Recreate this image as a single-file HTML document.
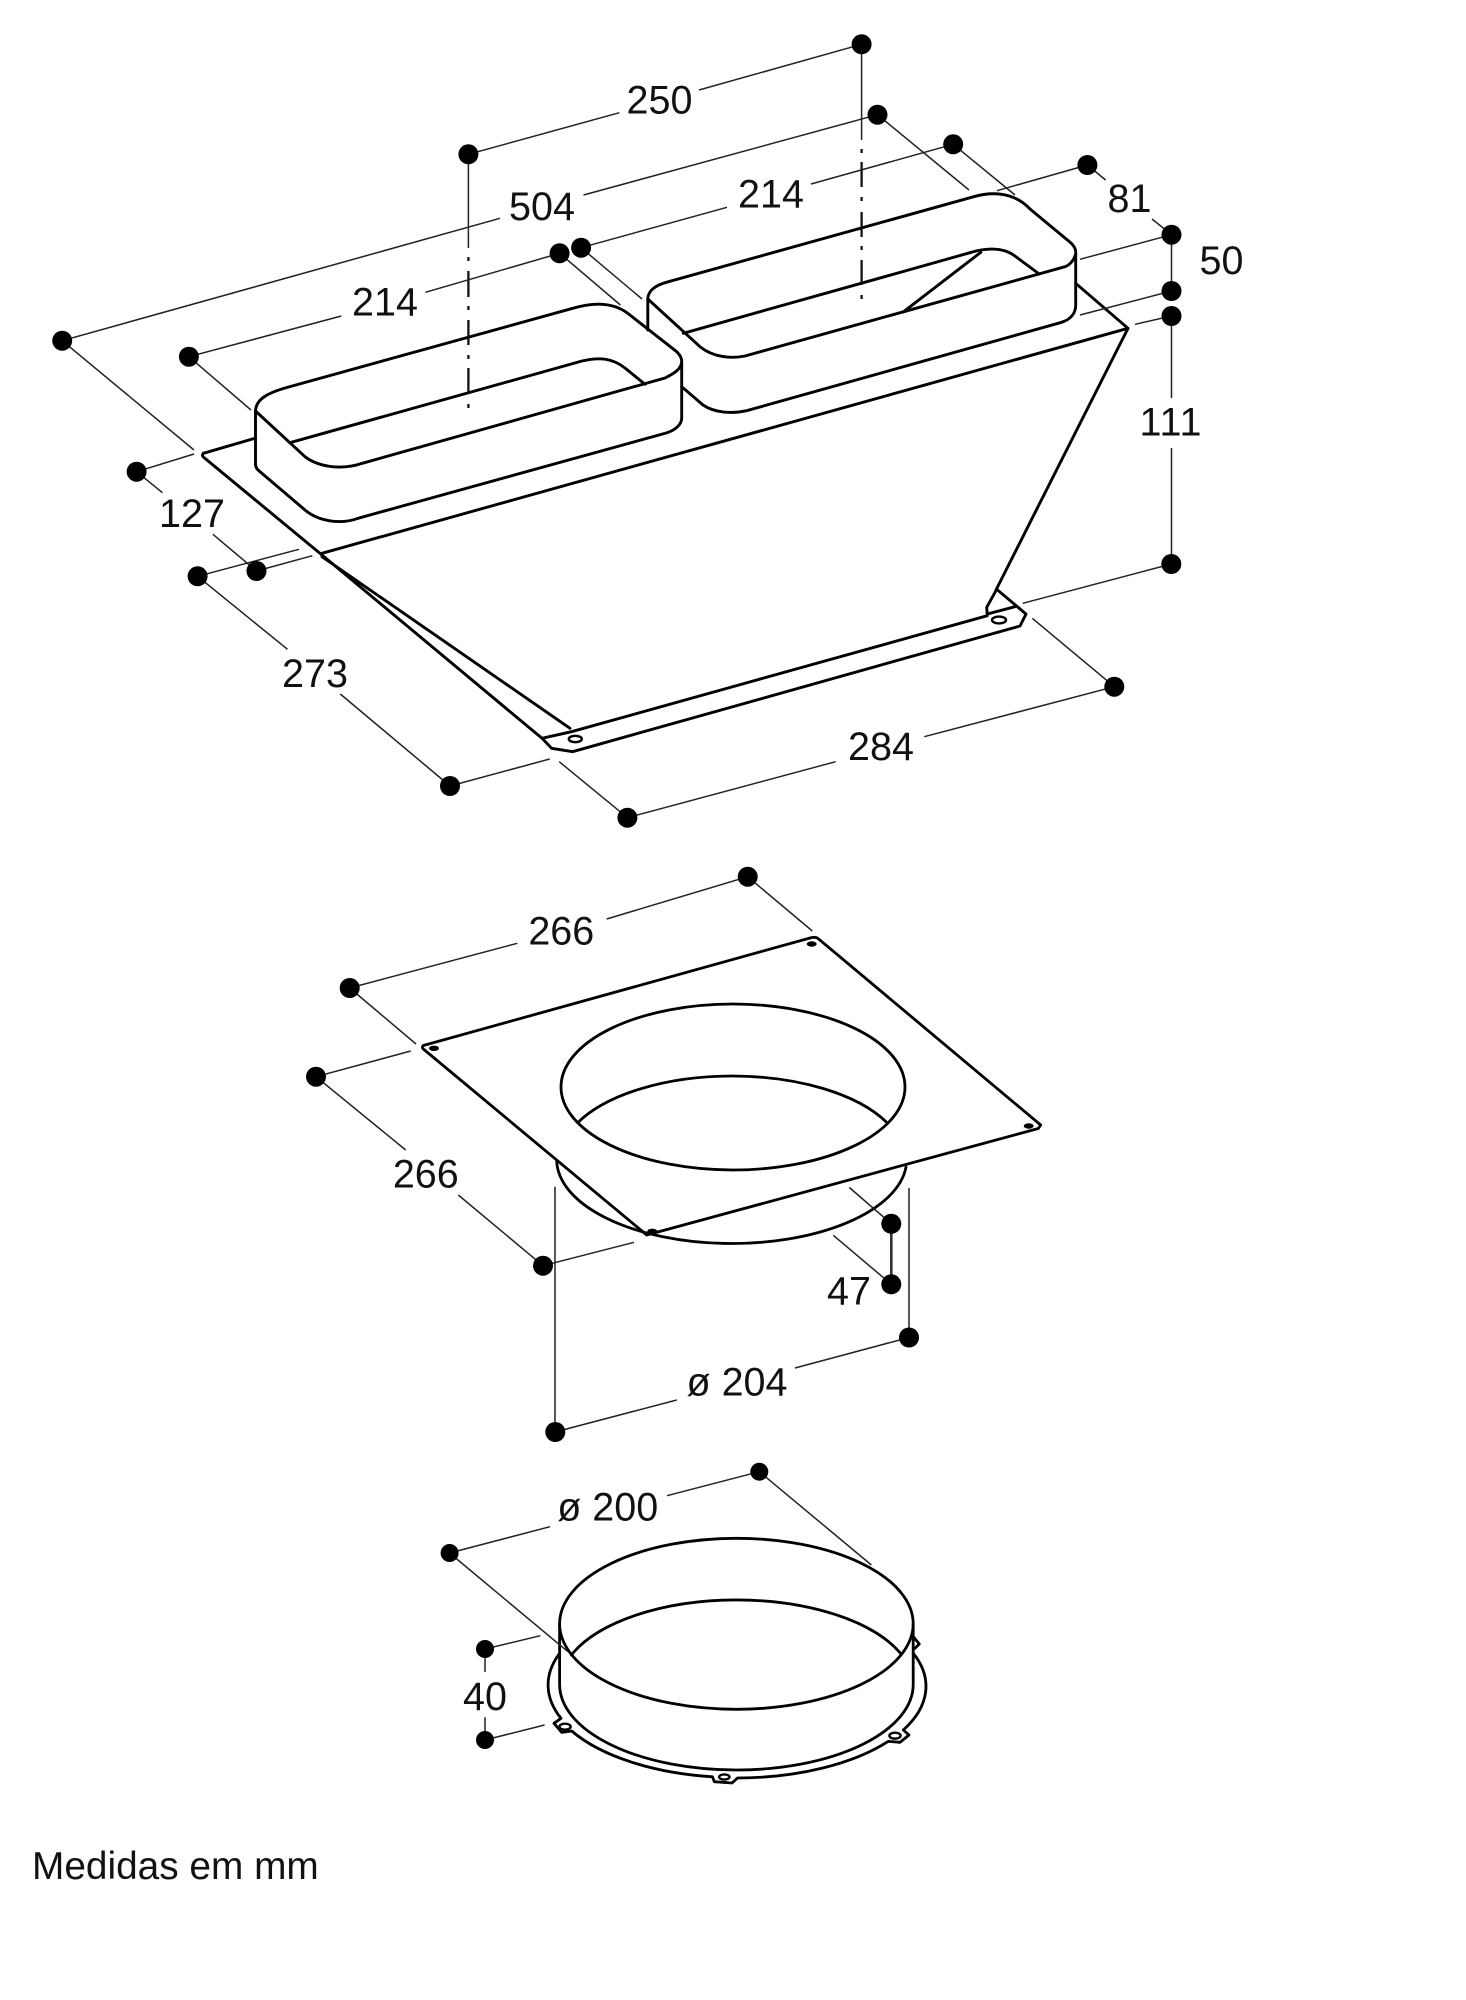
<!DOCTYPE html>
<html><head><meta charset="utf-8"><style>
html,body{margin:0;padding:0;background:#fff}
svg{display:block}
text{font-family:"Liberation Sans",sans-serif;font-size:39.5px;fill:#111;text-anchor:middle}
.d{stroke:#222;stroke-width:1.5;fill:none}
.o{stroke:#000;stroke-width:2.9;fill:none;stroke-linejoin:round;stroke-linecap:round}
.h{stroke:#000;stroke-width:2.4;fill:#fff}
</style></head><body>
<svg width="1466" height="2000" viewBox="0 0 1466 2000" xmlns="http://www.w3.org/2000/svg">
<!-- top object -->
<g class="o">
<path d="M203.4 453.3L255.7 438"/>
<path d="M203.4 453.3Q201.5 455 203.3 457L322 555L542 738.3L551.6 748.3L572.6 751.7L1020 626L1026 614L996.7 589.3L986.7 607.3L987.3 615.7L571.5 731.7L542 738.3"/>
<path d="M322 556.7L570 728.3"/>
<path d="M987.3 614L1015 606.7"/>
<path d="M322 553.3L1128 328.3L996 590"/>
<path d="M1075.7 283.3L1128 328.3"/>
<!-- duct 1 -->
<path d="M255.5 411L305 456.7C317 466 340 471 362.3 463.3L665 378C675 373 681 369 681.7 362C682 358 680 355 676.7 351.7L628 313.5C610 300 588 304 572.7 308.3L285 388C268 393 256 399 255.5 411Z"/>
<path d="M289.9 442.7L582 361C600 357 612 358 625 368L645 384.3"/>
<path d="M255.5 411V465Q256 468 258 470L305 510C318 521 340 525 358 518.3L666.2 433C676 430 681.7 424 681.7 418V362"/>
<!-- duct 2 -->
<path d="M647.8 299C648 290 656 285 668.5 281.7L973.8 196.7C990 192 1013 191 1030 209L1071 243C1075 247 1076 250 1075.7 254C1074 260 1070 265 1065 266.7L745 356C730 359 713 357 700 346.7Z"/>
<path d="M683.3 333.3L971.4 252.3C985 248 1002 247 1013.5 255L1039.2 274"/>
<path d="M980.8 252.3L903.6 311.7"/>
<path d="M1075.7 254V305C1075.7 314 1070 320 1060.3 322.7L746.7 410.7C732 414 715 413 703 405L681.7 386.7"/>
<path d="M647.8 299V330"/>
</g>
<ellipse class="h" cx="575.3" cy="739" rx="6.5" ry="3.2"/>
<ellipse class="h" cx="999" cy="620" rx="7" ry="3.4"/>
<!-- centre lines -->
<path stroke="#222" stroke-width="1.5" d="M468.4 154V248M861.6 44V140"/>
<path stroke="#111" stroke-width="2.3" d="M468.4 257V261M468.4 271V297M468.4 306V310M468.4 320V345M468.4 355V359M468.4 368V393M468.4 404V408M861.6 149V153M861.6 162V187M861.6 197V201M861.6 212V237M861.6 246V250M861.6 260V285M861.6 295V299"/>
<!-- dims top -->
<path class="d" d="M468.4 154.3L619.4 112.7M699 90L861.6 44.3
M62.2 340.7L500 218.3M583.5 195L877.5 114.7M62.2 340.7L194 450M877.5 114.7L969 190
M188.9 356.7L341.3 316M425.4 292.3L559.6 253.3M188.9 356.7L251 410M559.6 253.3L620.4 305
M581.1 247.7L727 207.3M811 184L953.2 144.3M581.1 247.7L642 299M953.2 144.3L1015 195
M1087.4 165L997 190.7M1087.4 165L1105.6 180M1152 219L1171.5 234.7
M1171.5 234.7L1080 259.3M1171.5 291L1080 315M1171.5 316L1135 324.3
M1171.5 234.7V291M1171.5 316V398M1171.5 448V564
M136.5 471.7L194 454M136.7 471.7L162.4 492.7M212.9 534.3L256.5 571M256.5 571L312.4 555.7
M197.6 576.3L299 549.3M197.6 576.3L287.5 649.3M340.3 694L450 786M450 786L549.7 759
M559.2 761.7L627.4 817.7M627.4 817.7L835.7 761.7M924.3 736.7L1114.3 686.7M1114.3 686.7L1032.3 618.3
M1171.3 564L1022.7 603.3"/>
<!-- plate -->
<g class="o" style="stroke-width:2.8">
<path d="M423.3 1045.5L810 938Q816 936.5 818.3 938.7L1040.7 1125L1038.3 1128.5L646.7 1235L423.3 1049Q421.5 1047 423.3 1045.5Z"/>
<ellipse cx="733" cy="1087" rx="172" ry="83"/>
<path d="M577.7 1122.7A172 83 0 0 1 886.7 1122.4"/>
<path d="M556.7 1160A175 84 0 0 0 906 1167"/>
</g>
<g fill="#000"><ellipse cx="434" cy="1048.3" rx="5" ry="2.7"/><ellipse cx="652.3" cy="1231.3" rx="5" ry="2.7"/><ellipse cx="811.7" cy="944" rx="5" ry="2.7"/><ellipse cx="1028.7" cy="1126" rx="5" ry="2.7"/></g>
<path class="d" d="M349.7 988L517.3 943.3M606.7 919L747.7 876.7M349.7 988L416 1044M747.7 876.7L812.3 931
M316 1076.7L410.7 1051M316 1076.7L405.7 1150M458.3 1195L543 1265.7M543 1265.7L634 1242.3
M555 1186.7V1432M555 1432L676.7 1400M795 1368L909 1337.5M909 1188V1337.5
M849.3 1187.5L891.3 1223.8M833.3 1235.3L891.3 1284.3"/>
<path stroke="#333" stroke-width="2.6" d="M891.3 1223.8V1284.3"/>
<!-- ring -->
<g class="o" style="stroke-width:2.8">
<path d="M558.9 1654.3A189.6 92 0 0 0 561 1718.3L554 1723.3L561.7 1732.3L571.7 1731A189.6 92 0 0 0 712.5 1776.8L714.3 1781.7L732 1783L737.5 1778A189.6 92 0 0 0 888.3 1741.3L900 1742.3L909 1735L903.3 1730A189.6 92 0 0 0 913.3 1653.3"/>
<path d="M913.3 1636.7L919.3 1644L915 1648.3"/>
<ellipse cx="736.4" cy="1623.8" rx="176.8" ry="85.5"/>
<path d="M571.4 1655A176.8 85.5 0 0 1 901 1654"/>
<path d="M559.6 1624V1684.5A176.8 85.5 0 0 0 913.2 1684.5V1624"/>
</g>
<ellipse class="h" cx="565" cy="1726.7" rx="5.6" ry="3"/>
<ellipse class="h" cx="724.3" cy="1777" rx="5.2" ry="2.6"/>
<ellipse class="h" cx="895" cy="1735.7" rx="5.6" ry="3"/>
<path class="d" d="M449.6 1553L550 1526.7M667 1495.7L759.3 1471.7M759.3 1471.7L871.4 1565M449.6 1553L567.9 1651.7
M485 1649L540.4 1635.7M485 1740L544.6 1725M485 1649V1672M485 1717.3V1740"/>
<!-- dots -->
<g fill="#000">
<circle cx="468.4" cy="154.3" r="10"/><circle cx="559.6" cy="253.3" r="10"/><circle cx="581.1" cy="247.7" r="10"/>
<circle cx="62.2" cy="340.7" r="10"/><circle cx="188.9" cy="356.7" r="10"/><circle cx="136.6" cy="471.7" r="10"/>
<circle cx="861.6" cy="44.3" r="10"/><circle cx="877.5" cy="114.7" r="10"/><circle cx="953.2" cy="144.3" r="10"/>
<circle cx="1087.4" cy="165" r="10"/><circle cx="1171.5" cy="234.7" r="10"/><circle cx="1171.5" cy="291" r="10"/><circle cx="1171.5" cy="316" r="10"/>
<circle cx="256.5" cy="571" r="10"/><circle cx="197.6" cy="576.3" r="10"/><circle cx="450" cy="786" r="10"/><circle cx="627.4" cy="817.7" r="10"/>
<circle cx="1171.3" cy="564" r="10"/><circle cx="1114.3" cy="686.7" r="10"/>
<circle cx="747.7" cy="876.7" r="10"/><circle cx="349.7" cy="988" r="10"/><circle cx="316" cy="1076.7" r="10"/><circle cx="543" cy="1265.7" r="10"/>
<circle cx="891.3" cy="1223.8" r="10"/><circle cx="891.3" cy="1284.3" r="10"/><circle cx="909" cy="1337.5" r="10"/><circle cx="555.3" cy="1432" r="10"/>
<circle cx="759.3" cy="1471.7" r="9"/><circle cx="449.6" cy="1553" r="9"/><circle cx="485" cy="1649" r="9"/><circle cx="485" cy="1740" r="9"/>
</g>
<!-- labels -->
<text x="659.5" y="113.5">250</text>
<text x="542" y="220">504</text>
<text x="385" y="315.7">214</text>
<text x="771" y="207.5">214</text>
<text x="1129.5" y="212">81</text>
<text x="1221.5" y="274">50</text>
<text x="1171" y="435.5" style="letter-spacing:1px">111</text>
<text x="192" y="527">127</text>
<text x="315" y="687">273</text>
<text x="881" y="760">284</text>
<text x="561.3" y="944.7">266</text>
<text x="425.8" y="1187.3">266</text>
<text x="849" y="1304.5">47</text>
<text x="737" y="1395.5">ø 204</text>
<text x="607.7" y="1520.7">ø 200</text>
<text x="485" y="1710">40</text>
<text x="32" y="1879" style="text-anchor:start;font-size:38.8px">Medidas em mm</text>
</svg>
</body></html>
